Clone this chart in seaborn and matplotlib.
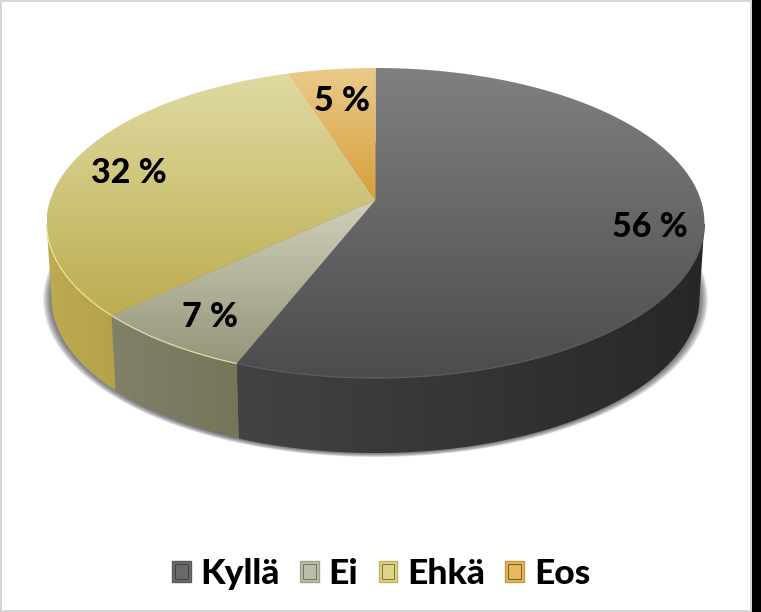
import numpy as np
import matplotlib
matplotlib.use("Agg")
import matplotlib.pyplot as plt
from matplotlib.patches import Polygon, Patch, Rectangle
from matplotlib.legend_handler import HandlerBase
import seaborn as sns

# ---- data ----
categories = ["Kyllä", "Ei", "Ehkä", "Eos"]
values = [56, 7, 32, 5]
value_labels = ["56 %", "7 %", "32 %", "5 %"]

# ---- style ----
top_light = ["#808080", "#d0d0bb", "#e0daa2", "#eacb8a"]
top_dark = ["#4c4c4f", "#95957a", "#bcad50", "#d89f3c"]
side_left = ["#434343", "#81816a", "#bcab52", "#c09030"]
side_right = ["#272727", "#757559", "#b3a248", "#b08020"]
rim_colors = ["#5c5c5e", "#e2e0a8", "#ece596", "#e8c070"]
legend_face = ["#6a6a6a", "#bcbda6", "#dcd488", "#e6b860"]
legend_edge = ["#5a5a5a", "#a0a18a", "#bfb568", "#c99a44"]
legend_inner = ["#404040", "#74745c", "#7d7232", "#7a5a20"]
label_radii = [0.835, 0.82, 0.81, 0.75]

# ---- projection of the tilted disc, in figure pixels ----
CX, CY, A, B, K = 375.5, 200.0, 325.3, 151.6, 0.1484
BASE_SX, BASE_Y0, BASE_SY = 0.985, 275.0, 1.0


def project(theta, r=1.0):
    u, v = r * np.sin(theta), r * np.cos(theta) * -1
    d = 1 - K * v
    return CX + A * u / d, CY + B * v / d


def base(x, y):
    return CX + BASE_SX * (x - CX), BASE_Y0 + BASE_SY * (y - CY)


inner_lookup = dict(zip(categories, legend_inner))


class SquareHandler(HandlerBase):
    def create_artists(self, legend, orig, xd, yd, w, h, fs, trans):
        outer = Rectangle((-xd, -yd), w, h, fc=orig.get_facecolor(),
                          ec=orig.get_edgecolor(), lw=1.0, transform=trans)
        m = w * 0.16
        inner = Rectangle((-xd + m, -yd + m), w - 2 * m, h - 2 * m, fc="none",
                          ec=inner_lookup[orig.get_label()], lw=0.7, transform=trans)
        return [outer, inner]


sns.set_theme(style="white")
plt.rcParams["font.family"] = ["Lato", "DejaVu Sans"]

fig = plt.figure(figsize=(7.61, 6.12), dpi=100, facecolor="white")
ax = fig.add_axes([0, 0, 1, 1])
ax.set_xlim(0, 761)
ax.set_ylim(612, 0)
ax.axis("off")

# frame of the screenshot
frame = "#d6d6d6"
ax.add_patch(Rectangle((0, 0), 752, 2, color=frame, lw=0))
ax.add_patch(Rectangle((0, 0), 2, 612, color=frame, lw=0))
ax.add_patch(Rectangle((0, 609.5), 752, 2.5, color=frame, lw=0))
ax.add_patch(Rectangle((749.5, 0), 2.5, 612, color=frame, lw=0))
ax.add_patch(Rectangle((752, 0), 9, 612, color="black", lw=0))

edges = np.cumsum([0] + values) / sum(values) * 2 * np.pi
full = np.linspace(0, 2 * np.pi, 400)
rx, ry = project(full)
bx, by = base(rx, ry)

# soft shadow under the base
for i in range(8, 0, -1):
    sx = CX + (bx - CX) * (1 + 0.0032 * i)
    sy = by + (by - 300) * 0.002 * i + 0.2 * i
    ax.fill(sx, sy, color="#303038", alpha=0.11, lw=0, zorder=2)


def gradient_fill(xs, ys, cmap, horizontal, zorder):
    poly = Polygon(np.c_[xs, ys], closed=True, fc="none", ec="none",
                   transform=ax.transData)
    ax.add_patch(poly)
    ramp = np.linspace(0, 1, 256)
    ramp = ramp[None, :] if horizontal else ramp[:, None]
    extent = (xs.min(), xs.max(), ys.max(), ys.min())
    im = ax.imshow(ramp, cmap=cmap, extent=extent, aspect="auto", zorder=zorder,
                   origin="upper", vmin=0, vmax=1, interpolation="bilinear")
    im.set_clip_path(poly)


# the wall is visible only between the two points where the rim turns back
front_start = np.arccos(-K)
front_end = 2 * np.pi - front_start

# side walls, then the top faces
for i in range(len(values)):
    lo, hi = max(edges[i], front_start), min(edges[i + 1], front_end)
    if hi <= lo:
        continue
    th = np.linspace(lo, hi, 160)
    px, py = project(th)
    qx, qy = base(px, py)
    xs = np.r_[px, qx[::-1]]
    ys = np.r_[py, qy[::-1]]
    cmap = sns.blend_palette([side_left[i], side_right[i]], as_cmap=True)
    gradient_fill(xs, ys, cmap, True, 3)

for i in range(len(values)):
    th = np.linspace(edges[i], edges[i + 1], 160)
    px, py = project(th)
    xs = np.r_[CX, px]
    ys = np.r_[CY, py]
    cmap = sns.blend_palette([top_light[i], top_dark[i]], as_cmap=True)
    gradient_fill(xs, ys, cmap, False, 4)
    # lit rim on the front edge
    front = (th >= front_start) & (th <= front_end)
    if front.any():
        ax.plot(px[front], py[front], color=rim_colors[i], lw=0.9, zorder=5,
                solid_capstyle="butt")

ax.set_xlim(0, 761)
ax.set_ylim(612, 0)

# value labels
for i, lab in enumerate(value_labels):
    mid = (edges[i] + edges[i + 1]) / 2
    lx, ly = project(mid, label_radii[i])
    ax.text(lx + 1, ly + 2.5, lab, ha="center", va="center", fontsize=24.5,
            fontweight=900, color="black", zorder=6)

# legend
handles = [Patch(facecolor=f, edgecolor=e, label=c)
           for f, e, c in zip(legend_face, legend_edge, categories)]
ax.legend(handles=handles, handler_map={Patch: SquareHandler()}, loc="center",
          bbox_to_anchor=(381, 574), bbox_transform=ax.transData, ncol=4,
          frameon=False, prop={"weight": 900, "size": 25.5},
          handlelength=0.53, handleheight=0.53, handletextpad=0.28,
          columnspacing=0.57, borderpad=0, borderaxespad=0, labelcolor="black")

fig.savefig("out.png", dpi=100, facecolor="white")
